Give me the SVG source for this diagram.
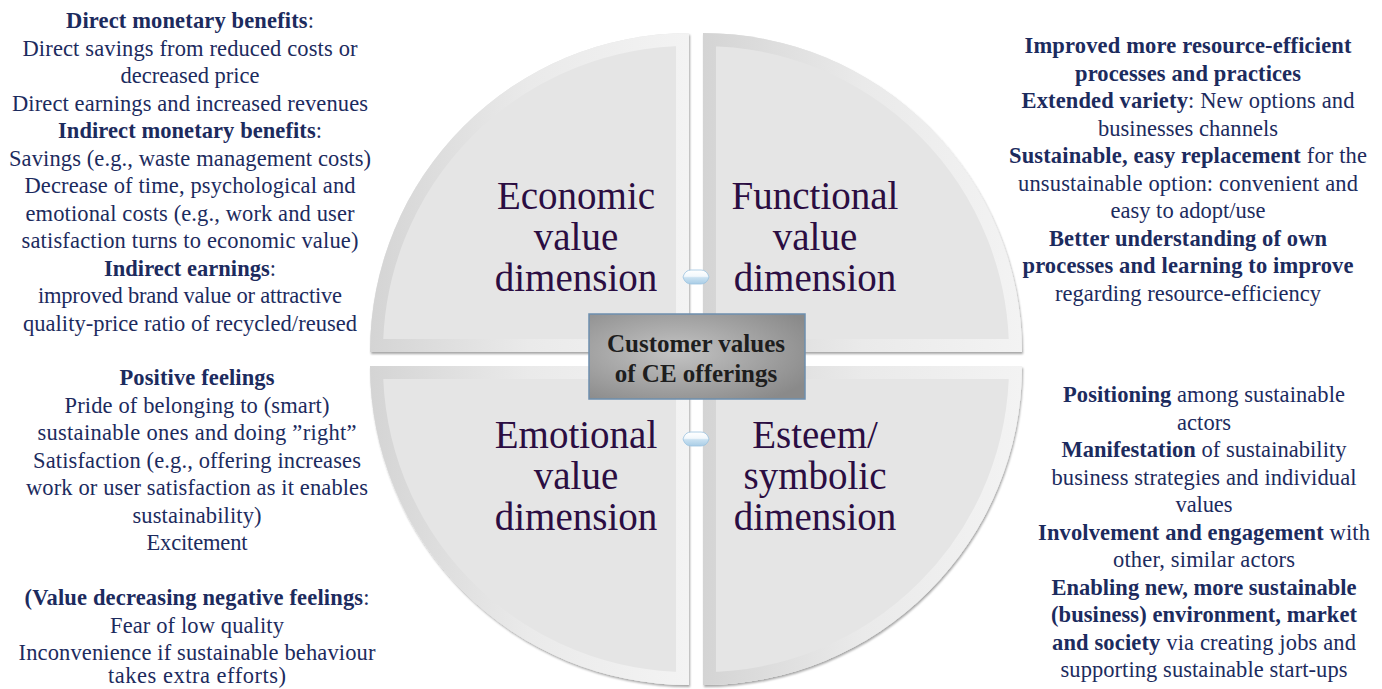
<svg xmlns="http://www.w3.org/2000/svg" width="1382" height="689" viewBox="0 0 1382 689">
<defs>
<style>
.t{font-family:"Liberation Serif","Times New Roman",serif;font-size:22.5px;fill:#1c2b5e;text-anchor:middle}
.b{font-weight:bold}
.q{font-family:"Liberation Serif","Times New Roman",serif;font-size:39px;fill:#2b0d42;text-anchor:middle}
.c{font-family:"Liberation Serif","Times New Roman",serif;font-size:25px;font-weight:bold;fill:#1e1e1e;text-anchor:middle}
.face{fill:#e5e5e5;filter:url(#sh)}
.bev{fill:none;stroke:url(#bevg);stroke-width:26}
.lens{fill:url(#lensg);stroke:#9cc3df;stroke-width:0.8}
</style>
<filter id="sh" x="-5%" y="-5%" width="110%" height="110%">
<feDropShadow dx="1" dy="2" stdDeviation="1.2" flood-color="#000" flood-opacity="0.35"/>
</filter>
<linearGradient id="bevg" x1="0" y1="0" x2="1" y2="0">
<stop offset="0" stop-color="#d4d4d4"/>
<stop offset="0.5" stop-color="#eaeaea"/>
<stop offset="1" stop-color="#f3f3f3"/>
</linearGradient>
<linearGradient id="lensg" x1="0" y1="0" x2="0" y2="1">
<stop offset="0" stop-color="#ffffff"/>
<stop offset="0.45" stop-color="#f2f8fc"/>
<stop offset="0.55" stop-color="#c9e1f1"/>
<stop offset="1" stop-color="#a9cde6"/>
</linearGradient>
<radialGradient id="boxg" cx="0.4" cy="0.45" r="0.7">
<stop offset="0" stop-color="#c3c3c3"/>
<stop offset="1" stop-color="#8a8a8a"/>
</radialGradient>
<path id="pTL" d="M689,352 L370,352 A319,319 0 0 1 689,33 Z"/>
<path id="pTR" d="M703,352 L703,33 A319,319 0 0 1 1022,352 Z"/>
<path id="pBL" d="M689,366 L689,685 A319,319 0 0 1 370,366 Z"/>
<path id="pBR" d="M703,366 L1022,366 A319,319 0 0 1 703,685 Z"/>
<clipPath id="cTL"><use href="#pTL"/></clipPath>
<clipPath id="cTR"><use href="#pTR"/></clipPath>
<clipPath id="cBL"><use href="#pBL"/></clipPath>
<clipPath id="cBR"><use href="#pBR"/></clipPath>
</defs>
<rect width="1382" height="689" fill="#ffffff"/>

<g id="node-economic">
<use href="#pTL" class="face"/>
<use href="#pTL" class="bev" clip-path="url(#cTL)"/>
<text class="q" x="576" y="209">Economic</text>
<text class="q" x="576" y="250">value</text>
<text class="q" x="576" y="291">dimension</text>
</g>
<g id="node-functional">
<use href="#pTR" class="face"/>
<use href="#pTR" class="bev" clip-path="url(#cTR)"/>
<text class="q" x="815" y="209">Functional</text>
<text class="q" x="815" y="250">value</text>
<text class="q" x="815" y="291">dimension</text>
</g>
<g id="node-emotional">
<use href="#pBL" class="face"/>
<use href="#pBL" class="bev" clip-path="url(#cBL)"/>
<text class="q" x="576" y="448">Emotional</text>
<text class="q" x="576" y="489">value</text>
<text class="q" x="576" y="530">dimension</text>
</g>
<g id="node-esteem">
<use href="#pBR" class="face"/>
<use href="#pBR" class="bev" clip-path="url(#cBR)"/>
<text class="q" x="815" y="448">Esteem/</text>
<text class="q" x="815" y="489">symbolic</text>
<text class="q" x="815" y="530">dimension</text>
</g>

<g id="connectors">
<path class="lens" d="M683,277 Q685,270 691,270 L701,270 Q707,270 709,277 Q707,284 701,284 L691,284 Q685,284 683,277 Z"/>
<path class="lens" d="M683,439 Q685,432 691,432 L701,432 Q707,432 709,439 Q707,446 701,446 L691,446 Q685,446 683,439 Z"/>
</g>

<g id="node-center">
<rect x="589" y="314" width="216" height="85" fill="url(#boxg)" stroke="#6d8fae" stroke-width="1.5"/>
<text class="c" x="696" y="352">Customer values</text>
<text class="c" x="696" y="382">of CE offerings</text>
</g>

<g id="text-economic">
<text class="t" x="190" y="28" textLength="248"><tspan class="b">Direct monetary benefits</tspan>:</text>
<text class="t" x="190" y="55.5" textLength="335">Direct savings from reduced costs or</text>
<text class="t" x="190" y="83" textLength="139">decreased price</text>
<text class="t" x="190" y="110.5" textLength="356">Direct earnings and increased revenues</text>
<text class="t" x="190" y="138" textLength="264"><tspan class="b">Indirect monetary benefits</tspan>:</text>
<text class="t" x="190" y="165.5" textLength="362">Savings (e.g., waste management costs)</text>
<text class="t" x="190" y="193" textLength="331">Decrease of time, psychological and</text>
<text class="t" x="190" y="220.5" textLength="329">emotional costs (e.g., work and user</text>
<text class="t" x="190" y="248" textLength="337">satisfaction turns to economic value)</text>
<text class="t" x="190" y="275.5" textLength="172"><tspan class="b">Indirect earnings</tspan>:</text>
<text class="t" x="190" y="303" textLength="304">improved brand value or attractive</text>
<text class="t" x="190" y="330.5" textLength="334">quality-price ratio of recycled/reused</text>
</g>

<g id="text-emotional">
<text class="t b" x="197" y="385" textLength="155">Positive feelings</text>
<text class="t" x="197" y="412.5" textLength="265">Pride of belonging to (smart)</text>
<text class="t" x="197" y="440" textLength="319">sustainable ones and doing ”right”</text>
<text class="t" x="197" y="467.5" textLength="328">Satisfaction (e.g., offering increases</text>
<text class="t" x="197" y="495" textLength="342">work or user satisfaction as it enables</text>
<text class="t" x="197" y="522.5" textLength="129">sustainability)</text>
<text class="t" x="197" y="550" textLength="101">Excitement</text>
<text class="t" x="197" y="605" textLength="345"><tspan class="b">(Value decreasing negative feelings</tspan>:</text>
<text class="t" x="197" y="632.5" textLength="174">Fear of low quality</text>
<text class="t" x="197" y="659.5" textLength="357">Inconvenience if sustainable behaviour</text>
<text class="t" x="197" y="683" textLength="178">takes extra efforts)</text>
</g>

<g id="text-functional">
<text class="t b" x="1188" y="53" textLength="327">Improved more resource-efficient</text>
<text class="t b" x="1188" y="80.5" textLength="226">processes and practices</text>
<text class="t" x="1188" y="108" textLength="333"><tspan class="b">Extended variety</tspan>: New options and</text>
<text class="t" x="1188" y="135.5" textLength="180">businesses channels</text>
<text class="t" x="1188" y="163" textLength="358"><tspan class="b">Sustainable, easy replacement</tspan> for the</text>
<text class="t" x="1188" y="190.5" textLength="340">unsustainable option: convenient and</text>
<text class="t" x="1188" y="218" textLength="155">easy to adopt/use</text>
<text class="t b" x="1188" y="245.5" textLength="278">Better understanding of own</text>
<text class="t b" x="1188" y="273" textLength="331">processes and learning to improve</text>
<text class="t" x="1188" y="300.5" textLength="266">regarding resource-efficiency</text>
</g>

<g id="text-esteem">
<text class="t" x="1204" y="402" textLength="282"><tspan class="b">Positioning</tspan> among sustainable</text>
<text class="t" x="1204" y="429.5" textLength="54">actors</text>
<text class="t" x="1204" y="457" textLength="285"><tspan class="b">Manifestation</tspan> of sustainability</text>
<text class="t" x="1204" y="484.5" textLength="305">business strategies and individual</text>
<text class="t" x="1204" y="512" textLength="57">values</text>
<text class="t" x="1204" y="539.5" textLength="332"><tspan class="b">Involvement and engagement</tspan> with</text>
<text class="t" x="1204" y="567" textLength="182">other, similar actors</text>
<text class="t b" x="1204" y="594.5" textLength="305">Enabling new, more sustainable</text>
<text class="t b" x="1204" y="622" textLength="306">(business) environment, market</text>
<text class="t" x="1204" y="649.5" textLength="304"><tspan class="b">and society</tspan> via creating jobs and</text>
<text class="t" x="1204" y="677" textLength="287">supporting sustainable start-ups</text>
</g>
</svg>
